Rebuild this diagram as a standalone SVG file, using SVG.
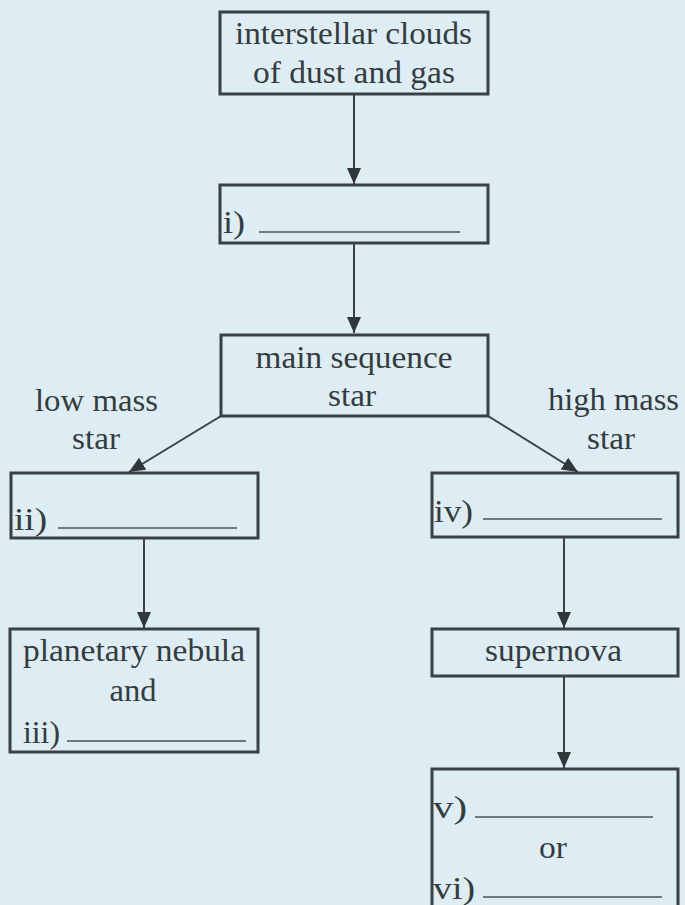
<svg xmlns="http://www.w3.org/2000/svg" width="685" height="905" viewBox="0 0 685 905">
<defs>
<style>
.box{fill:none;stroke:#394145;stroke-width:3}
.t{font-family:"Liberation Serif","Times New Roman",serif;font-size:32px;fill:#343c40}
.m{text-anchor:middle}
.ul{stroke:#6f787c;stroke-width:2}
.c{stroke:#394145;stroke-width:2;fill:none}
</style>
<marker id="ah" markerUnits="userSpaceOnUse" markerWidth="16" markerHeight="14" viewBox="0 0 16 14" refX="16" refY="7" orient="auto">
<path d="M0,0 L16,7 L0,14 Z" fill="#2f373a"/>
</marker>
</defs>
<rect width="685" height="905" fill="#deedf3"/>
<g id="connectors">
<line class="c" x1="354" y1="95" x2="354" y2="184" marker-end="url(#ah)"/>
<line class="c" x1="354" y1="244" x2="354" y2="333" marker-end="url(#ah)"/>
<line class="c" x1="221" y1="416" x2="129" y2="472" marker-end="url(#ah)"/>
<line class="c" x1="488" y1="416" x2="578" y2="472" marker-end="url(#ah)"/>
<line class="c" x1="144" y1="539" x2="144" y2="628" marker-end="url(#ah)"/>
<line class="c" x1="564" y1="538" x2="564" y2="628" marker-end="url(#ah)"/>
<line class="c" x1="564" y1="677" x2="564" y2="768" marker-end="url(#ah)"/>
</g>
<g id="clouds">
<rect class="box" x="220" y="12" width="268" height="82"/>
<text class="t m" x="353.5" y="44" textLength="237" lengthAdjust="spacingAndGlyphs">interstellar clouds</text>
<text class="t m" x="354" y="83" textLength="202" lengthAdjust="spacingAndGlyphs">of dust and gas</text>
</g>
<g id="stage-i">
<rect class="box" x="220" y="185" width="268" height="58"/>
<text class="t" x="223" y="233" textLength="22" lengthAdjust="spacingAndGlyphs">i)</text>
<line class="ul" x1="259" y1="232" x2="460" y2="232"/>
</g>
<g id="main-sequence">
<rect class="box" x="221" y="335" width="267" height="81"/>
<text class="t m" x="354" y="368" textLength="197" lengthAdjust="spacingAndGlyphs">main sequence</text>
<text class="t m" x="352" y="406" textLength="48" lengthAdjust="spacingAndGlyphs">star</text>
</g>
<g id="low-mass-label">
<text class="t m" x="96.5" y="411" textLength="123" lengthAdjust="spacingAndGlyphs">low mass</text>
<text class="t m" x="96" y="449" textLength="48" lengthAdjust="spacingAndGlyphs">star</text>
</g>
<g id="high-mass-label">
<text class="t m" x="613.5" y="410" textLength="131" lengthAdjust="spacingAndGlyphs">high mass</text>
<text class="t m" x="611" y="449" textLength="48" lengthAdjust="spacingAndGlyphs">star</text>
</g>
<g id="stage-ii">
<rect class="box" x="11" y="473" width="247" height="65"/>
<text class="t" x="14" y="530" textLength="33" lengthAdjust="spacingAndGlyphs">ii)</text>
<line class="ul" x1="58" y1="528" x2="237" y2="528"/>
</g>
<g id="stage-iv">
<rect class="box" x="432" y="473" width="246" height="64"/>
<text class="t" x="434" y="522" textLength="39" lengthAdjust="spacingAndGlyphs">iv)</text>
<line class="ul" x1="483" y1="519" x2="662" y2="519"/>
</g>
<g id="planetary-nebula">
<rect class="box" x="10" y="629" width="248" height="123"/>
<text class="t m" x="134" y="661" textLength="222" lengthAdjust="spacingAndGlyphs">planetary nebula</text>
<text class="t m" x="133" y="701" textLength="47" lengthAdjust="spacingAndGlyphs">and</text>
<text class="t" x="23" y="743" textLength="37" lengthAdjust="spacingAndGlyphs">iii)</text>
<line class="ul" x1="67" y1="741" x2="246" y2="741"/>
</g>
<g id="supernova">
<rect class="box" x="432" y="629" width="246" height="47"/>
<text class="t m" x="553.5" y="661" textLength="137" lengthAdjust="spacingAndGlyphs">supernova</text>
</g>
<g id="remnant">
<rect class="box" x="432" y="769" width="246" height="160"/>
<text class="t" x="433" y="818" textLength="34" lengthAdjust="spacingAndGlyphs">v)</text>
<line class="ul" x1="475" y1="817" x2="653" y2="817"/>
<text class="t m" x="553" y="858" textLength="28" lengthAdjust="spacingAndGlyphs">or</text>
<text class="t" x="433" y="899" textLength="42" lengthAdjust="spacingAndGlyphs">vi)</text>
<line class="ul" x1="483" y1="897" x2="662" y2="897"/>
</g>
</svg>
